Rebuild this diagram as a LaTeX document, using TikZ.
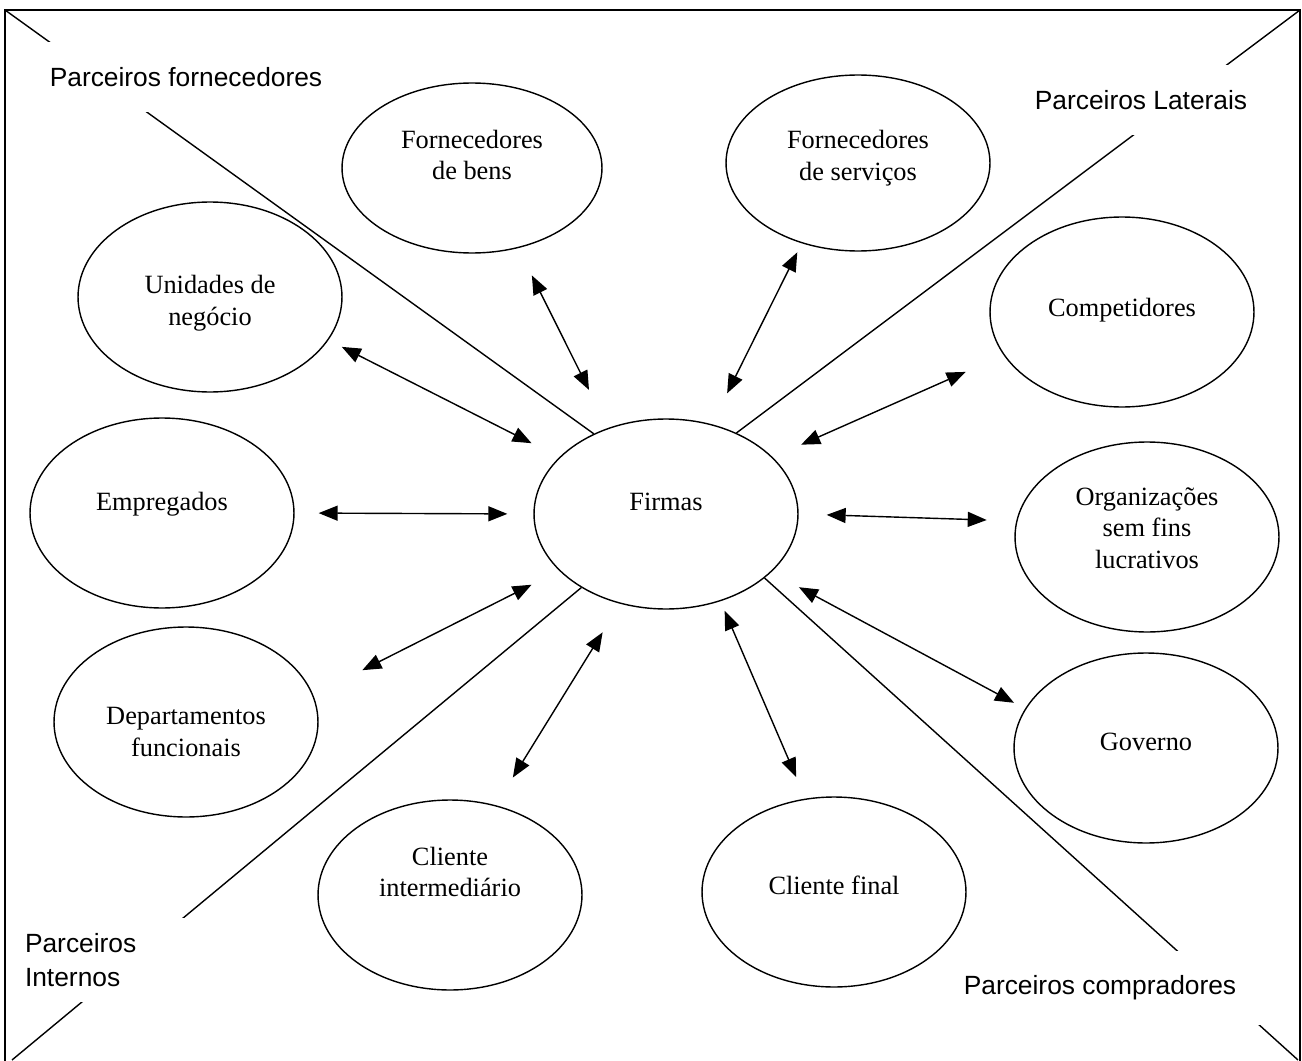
\documentclass[tikz,border=0pt]{standalone}
\usepackage{fontspec}
\setmainfont{Liberation Serif}
\newfontfamily\rotulofont{Liberation Sans}
\usetikzlibrary{arrows.meta,shapes.geometric}

\tikzset{
  parceiro/.style={draw, ellipse, minimum width=5.28cm, minimum height=3.8cm, inner sep=0pt},
  texto/.style={align=center, inner sep=0pt, font=\fontsize{15}{18}\selectfont},
  faixa/.style={fill=white, inner xsep=0.5cm, inner ysep=0.5cm, font=\rotulofont\fontsize{15}{19.4}\selectfont},
  troca/.style={{Triangle[length=0.38cm,width=0.3cm]}-{Triangle[length=0.38cm,width=0.3cm]}}
}

\begin{document}
\begin{tikzpicture}[x=0.02cm, y=-0.02cm, line width=0.8pt]
   \useasboundingbox (0,0) rectangle (1302,1061);

   \node [parceiro, label={[texto, yshift=0.24cm]center:Firmas}] (firmas) at (666,514) {};
   \node [parceiro, minimum width=5.2cm, minimum height=3.4cm, label={[texto, yshift=0.26cm]center:Fornecedores\\de bens}] (bens) at (472,168) {};
   \node [parceiro, minimum height=3.52cm, label={[texto, yshift=0.1cm]center:Fornecedores\\de serviços}] (servicos) at (858,163) {};
   \node [parceiro, label={[texto, yshift=-0.12cm]center:Unidades de\\negócio}] (unidades) at (210,297) {};
   \node [parceiro, label={[texto, yshift=0.04cm]center:Competidores}] (competidores) at (1122,312) {};
   \node [parceiro, label={[texto, yshift=0.18cm]center:Empregados}] (empregados) at (162,513) {};
   \node [parceiro, label={[texto, yshift=0.18cm]center:Organizações\\sem fins\\lucrativos}] (organiz) at (1147,537) {};
   \node [parceiro, label={[texto, yshift=-0.2cm]center:Departamentos\\funcionais}] (departamentos) at (186,722) {};
   \node [parceiro, label={[texto, yshift=0.12cm]center:Governo}] (governo) at (1146,748) {};
   \node [parceiro, label={[texto, yshift=0.46cm]center:Cliente\\intermediário}] (cliinter) at (450,895) {};
   \node [parceiro, label={[texto, yshift=0.14cm]center:Cliente final}] (clifinal) at (834,892) {};

   \coordinate (no) at (5,10);
   \coordinate (ne) at (1300,10);
   \coordinate (so) at (12,1060);
   \coordinate (se) at (1298,1060);
   \draw (no) -- (firmas.132);
   \draw (ne) -- (firmas.49);
   \draw (so) -- (firmas.221);
   \draw (se) -- (firmas.327);

   \draw [troca, shorten <=0.61cm, shorten >=0.85cm] (bens.-60) -- (firmas.124);
   \draw [troca, shorten <=0.2cm, shorten >=0.69cm] (servicos.235) -- (firmas.63);
   \draw [troca, shorten <=0.3cm, shorten >=0.62cm] (unidades.-20) -- (firmas.152);
   \draw [troca, shorten <=0.83cm, shorten >=0.62cm] (competidores.200) -- (firmas.28);
   \draw [troca, shorten <=0.48cm, shorten >=0.52cm] (empregados.0) -- (firmas.180);
   \draw [troca, shorten <=0.56cm, shorten >=0.59cm] (firmas.0) -- (organiz.173);
   \draw [troca, shorten <=1.1cm, shorten >=0.62cm] (departamentos.12) -- (firmas.208);
   \draw [troca, shorten <=0.63cm, shorten >=0.25cm] (firmas.-29) -- (governo.162);
   \draw [troca, shorten <=0.67cm, shorten >=0.65cm] (firmas.243) -- (cliinter.63);
   \draw [troca, shorten <=0.21cm, shorten >=0.47cm] (firmas.-58) -- (clifinal.107);

   \node [faixa] (pforn) at (186,77) {Parceiros fornecedores};
   \node [faixa] (plat) at (1141,100) {Parceiros Laterais};
   \node [faixa, inner xsep=0.3cm, inner ysep=0.3cm, text width=3.4cm, align=left] (pint) at (110,960) {Parceiros\\Internos};
   \node [faixa] (pcomp) at (1100,988) {Parceiros compradores};

   \draw (5,1061) -- (5,10) -- (1300,10) -- (1300,1061);
\end{tikzpicture}
\end{document}
